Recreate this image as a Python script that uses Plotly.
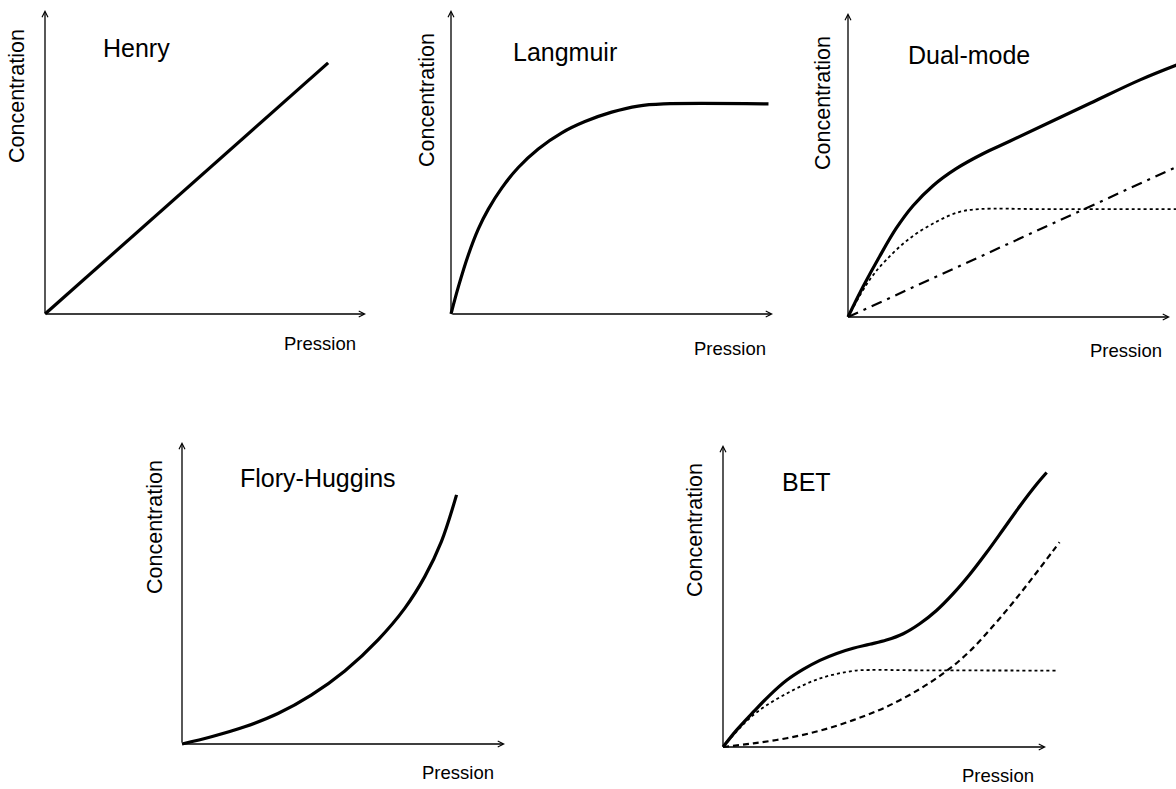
import plotly.graph_objects as go

W, H = 1176, 789

# ---------------- data (pressure, concentration) in arbitrary units ----------------
henry_x = [0.0, 8.82]
henry_y = [0.0, 8.26]

langmuir_x = [0.0, 0.23, 0.54, 0.85, 1.16, 1.58, 2.09, 2.71, 3.44, 4.16, 4.99, 5.81, 6.6, 9.86]
langmuir_y = [0.0, 0.90, 1.95, 2.80, 3.45, 4.15, 4.82, 5.43, 5.96, 6.33, 6.64, 6.84, 6.91, 6.91]

dual_total_x = [0.0, 0.47, 0.98, 1.50, 2.02, 2.64, 3.36, 4.19, 5.02, 7.52, 9.07, 10.21]
dual_total_y = [0.0, 1.00, 1.99, 2.92, 3.66, 4.32, 4.88, 5.37, 5.78, 7.03, 7.80, 8.29]
dual_langmuir_x = [0.0, 0.67, 1.19, 1.92, 2.74, 3.47, 4.09, 6.0, 10.19]
dual_langmuir_y = [0.0, 1.22, 1.88, 2.59, 3.13, 3.46, 3.55, 3.55, 3.55]
dual_henry_x = [0.0, 10.19]
dual_henry_y = [0.0, 4.93]

flory_x = [0.0, 0.91, 1.94, 2.97, 4.00, 5.04, 6.07, 6.90, 7.52, 8.03, 8.50]
flory_y = [0.0, 0.24, 0.57, 1.01, 1.62, 2.42, 3.45, 4.50, 5.55, 6.70, 8.25]

bet_total_x = [0.0, 0.42, 0.94, 1.45, 1.97, 2.48, 3.00, 3.52, 4.03, 4.54, 5.06, 5.58,
               6.09, 6.61, 7.12, 7.65, 8.16, 8.68, 9.20, 9.71, 10.02]
bet_total_y = [0.0, 0.56, 1.16, 1.72, 2.21, 2.57, 2.87, 3.10, 3.27, 3.40, 3.54, 3.75,
               4.08, 4.52, 5.07, 5.73, 6.44, 7.21, 7.99, 8.70, 9.09]
bet_langmuir_x = [0.0, 0.94, 1.97, 3.00, 4.03, 4.54, 6.0, 10.35]
bet_langmuir_y = [0.0, 1.06, 1.77, 2.27, 2.52, 2.55, 2.54, 2.53]
bet_cluster_x = [0.0, 0.94, 1.97, 3.00, 4.03, 5.06, 6.09, 6.90, 7.62, 8.34, 8.96, 9.58, 10.20, 10.42]
bet_cluster_y = [0.0, 0.12, 0.29, 0.54, 0.89, 1.33, 1.92, 2.50, 3.15, 3.98, 4.76, 5.60, 6.47, 6.78]

titles = ["Henry", "Langmuir", "Dual-mode", "Flory-Huggins", "BET"]
x_label = "Pression"
y_label = "Concentration"

# ---------------- layout geometry (pixels) ----------------
# origin px, x-arrow tip px, y-arrow tip px
panels = [
    dict(ox=45, oy=314, xt=366, yt=10),
    dict(ox=451, oy=314, xt=773, yt=10),
    dict(ox=848, oy=317, xt=1170, yt=13),
    dict(ox=182, oy=744, xt=505, yt=442),
    dict(ox=723, oy=747, xt=1046, yt=445),
]
# text centres (px): title, y label, x label
text_pos = [
    dict(t=(136, 48), yl=(17, 96), xl=(320, 343)),
    dict(t=(565, 52), yl=(427, 100), xl=(730, 348)),
    dict(t=(969, 55), yl=(823, 103), xl=(1126, 350)),
    dict(t=(318, 478), yl=(155, 527), xl=(458, 772)),
    dict(t=(806, 482), yl=(695, 530), xl=(998, 775)),
]

XMIN, XMAX = -0.3, 10.6
YMIN, YMAX = -0.3, 10.3

fig = go.Figure()

def px2paper(x, y):
    return x / W, 1 - y / H

layout_axes = {}
for i, p in enumerate(panels):
    sx = (p["xt"] - p["ox"]) / 10.0
    sy = (p["oy"] - p["yt"]) / 10.0
    dx0 = max(0, p["ox"] + XMIN * sx) / W
    dx1 = min(W, p["ox"] + XMAX * sx) / W
    xmin = (dx0 * W - p["ox"]) / sx
    xmax = (dx1 * W - p["ox"]) / sx
    y_top_px = p["oy"] - YMAX * sy
    y_bot_px = p["oy"] - YMIN * sy
    dy0 = 1 - y_bot_px / H
    dy1 = 1 - y_top_px / H
    n = "" if i == 0 else str(i + 1)
    ax_common = dict(showgrid=False, zeroline=False, showticklabels=False,
                     showline=False, ticks="", fixedrange=True)
    layout_axes["xaxis" + n] = dict(domain=[dx0, dx1], range=[xmin, xmax],
                                    anchor="y" + n, **ax_common)
    layout_axes["yaxis" + n] = dict(domain=[dy0, dy1], range=[YMIN, YMAX],
                                    anchor="x" + n, **ax_common)

fig.update_layout(**layout_axes)

solid = dict(color="black", width=3.2)
dotted = dict(color="black", width=1.8, dash="dot")
dashed = dict(color="black", width=2.2, dash="6px,4px")
dashdot = dict(color="black", width=2.2, dash="11px,6px,3px,6px")

def add(x, y, line, k, shape="spline"):
    n = "" if k == 0 else str(k + 1)
    fig.add_trace(go.Scatter(x=x, y=y, mode="lines", line=dict(shape=shape, smoothing=1.0, **line),
                             xaxis="x" + n, yaxis="y" + n, showlegend=False, hoverinfo="skip"))

add(henry_x, henry_y, solid, 0, "linear")
add(langmuir_x, langmuir_y, solid, 1)
add(dual_langmuir_x, dual_langmuir_y, dotted, 2)
add(dual_henry_x, dual_henry_y, dashdot, 2, "linear")
add(dual_total_x, dual_total_y, solid, 2)
add(flory_x, flory_y, solid, 3)
add(bet_langmuir_x, bet_langmuir_y, dotted, 4)
add(bet_cluster_x, bet_cluster_y, dashed, 4)
add(bet_total_x, bet_total_y, solid, 4)

FONT = "Liberation Sans, Arial, Helvetica, sans-serif"
annotations = []
for i, p in enumerate(panels):
    n = "" if i == 0 else str(i + 1)
    for (tx, ty) in [(10, 0), (0, 10)]:
        annotations.append(dict(x=tx, y=ty, ax=0, ay=0, xref="x" + n, yref="y" + n,
                                axref="x" + n, ayref="y" + n, showarrow=True, text="",
                                arrowhead=5, arrowsize=0.9, arrowwidth=1.3,
                                arrowcolor="black"))
    tp = text_pos[i]
    x, y = px2paper(*tp["t"])
    annotations.append(dict(x=x, y=y, xref="paper", yref="paper", text=titles[i],
                            showarrow=False, xanchor="center", yanchor="middle",
                            font=dict(family=FONT, size=25, color="black")))
    x, y = px2paper(*tp["yl"])
    annotations.append(dict(x=x, y=y, xref="paper", yref="paper", text=y_label,
                            showarrow=False, textangle=-90, xanchor="center", yanchor="middle",
                            font=dict(family=FONT, size=21.5, color="black")))
    x, y = px2paper(*tp["xl"])
    annotations.append(dict(x=x, y=y, xref="paper", yref="paper", text=x_label,
                            showarrow=False, xanchor="center", yanchor="middle",
                            font=dict(family=FONT, size=18.5, color="black")))

fig.update_layout(width=W, height=H, margin=dict(l=0, r=0, t=0, b=0),
                  paper_bgcolor="white", plot_bgcolor="rgba(0,0,0,0)",
                  annotations=annotations, showlegend=False)

fig.write_html("out.html", config={"displayModeBar": False, "staticPlot": True},
               post_script="document.body.style.margin='0';document.body.style.overflow='hidden';")
